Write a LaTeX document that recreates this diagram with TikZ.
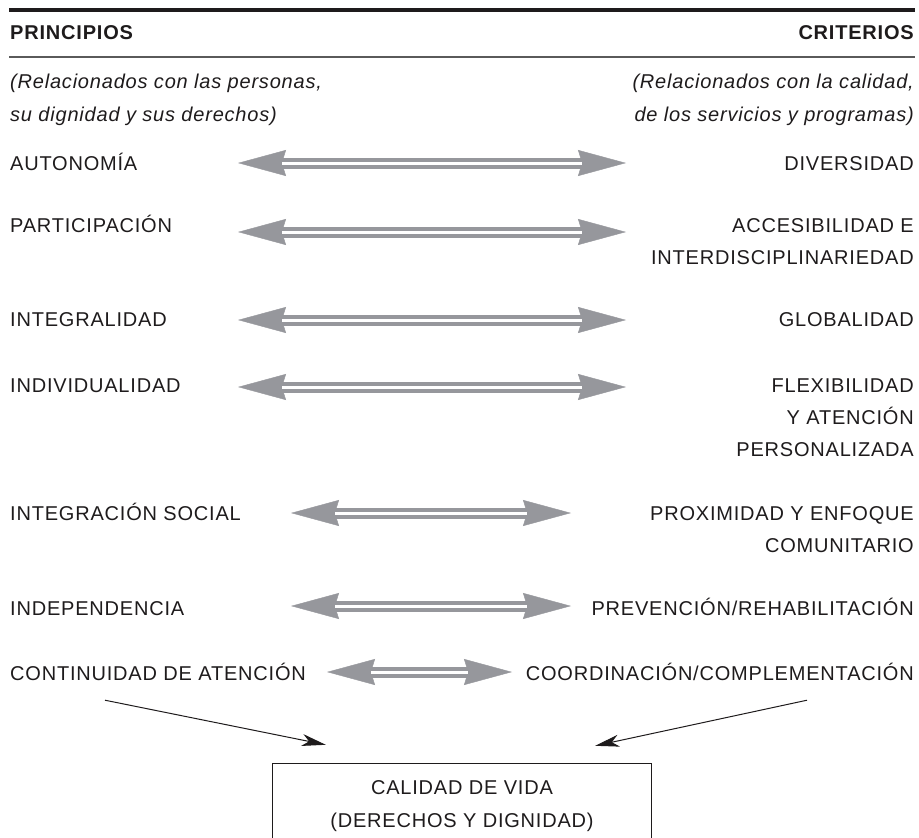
\documentclass[tikz,border=0pt]{standalone}
\usepackage{fontspec}
\setmainfont[LetterSpace=4]{Liberation Sans}
\usetikzlibrary{arrows.meta,positioning}

\definecolor{txtgray}{RGB}{30,27,28}
\definecolor{arrowgray}{RGB}{150,151,156}
\definecolor{rulegray}{RGB}{90,90,90}

\begin{document}
\begin{tikzpicture}[x=1pt,y=-1pt,
	lbl/.style={inner sep=0pt,text=txtgray,font=\fontsize{20pt}{32pt}\selectfont},
	gtip/.style={draw=arrowgray,line width=0.4pt,{Stealth[length=48pt,width=26pt,inset=4pt]}-{Stealth[length=48pt,width=26pt,inset=4pt]}},
	gshaft/.style={draw=arrowgray,line width=4pt,double=white,double distance=3pt,shorten <=44pt,shorten >=44pt}]
	\useasboundingbox (0,0) rectangle (919,838);

	% cabecera (los nodos de varias lineas se anclan en la ultima linea)
	\draw[txtgray,line width=4pt] (9,9.5) -- (915,9.5);
	\draw[rulegray,line width=1.8pt] (9,57) -- (915,57);
	\node[lbl,anchor=base west,font=\fontsize{20pt}{32pt}\selectfont\bfseries] (HP) at (10,39) {PRINCIPIOS};
	\node[lbl,anchor=base east,font=\fontsize{20pt}{32pt}\selectfont\bfseries] (HC) at (914,39) {CRITERIOS};
	\node[lbl,anchor=base west,align=left,font=\fontsize{20pt}{33pt}\selectfont\itshape] (SP) at (10,121) {(Relacionados con las personas,\\su dignidad y sus derechos)};
	\node[lbl,anchor=base east,align=right,font=\fontsize{20pt}{33pt}\selectfont\itshape] (SC) at (914,121) {(Relacionados con la calidad,\\de los servicios y programas)};

	% principios
	\foreach \y/\txt [count=\n] in
		{163/AUTONOMÍA,225/PARTICIPACIÓN,319/INTEGRALIDAD,385/INDIVIDUALIDAD,
		 513/INTEGRACIÓN SOCIAL,608/INDEPENDENCIA,673/CONTINUIDAD DE ATENCIÓN}
		\node[lbl,anchor=base west] (P\n) at (10,\y+7.2) {\txt};

	% criterios
	\foreach \y/\txt [count=\n] in
		{163/DIVERSIDAD,257/{ACCESIBILIDAD E\\INTERDISCIPLINARIEDAD},319/GLOBALIDAD,
		 449/{FLEXIBILIDAD\\Y ATENCIÓN\\PERSONALIZADA},545/{PROXIMIDAD Y ENFOQUE\\COMUNITARIO},
		 608/{PREVENCIÓN/REHABILITACIÓN},673/{COORDINACIÓN/COMPLEMENTACIÓN}}
		\node[lbl,anchor=base east,align=right] (C\n) at (914,\y+7.2) {\txt};

	% flechas dobles
	\foreach \y/\a/\b [count=\n] in
		{163/238/626,232/238/626,320/238/626,387/238/626,513/291/571,606/291/571,672/327/512}
	{
		\coordinate (L\n) at (\a,\y);
		\coordinate (R\n) at (\b,\y);
		\draw[gtip] (L\n) -- (R\n);
		\draw[gshaft] (L\n) -- (R\n);
	}

	% calidad de vida
	\node[lbl,align=center,font=\fontsize{20pt}{33pt}\selectfont,minimum width=378pt,minimum height=84pt] (B) at (462,806) {CALIDAD DE VIDA\\(DERECHOS Y DIGNIDAD)};
	\draw[txtgray,line width=1pt] (B.south west) -- (B.north west) -- (B.north east) -- (B.south east);

	\draw[txtgray,line width=1pt,-{Stealth[length=24pt,width=12pt,inset=7pt]}]
		([shift={(95,20)}]P7.base west) -- ([shift={(53,-19)}]B.north west);
	\draw[txtgray,line width=1pt,-{Stealth[length=24pt,width=12pt,inset=7pt]}]
		([shift={(-107,20)}]C7.base east) -- ([shift={(-56,-18)}]B.north east);
\end{tikzpicture}
\end{document}
